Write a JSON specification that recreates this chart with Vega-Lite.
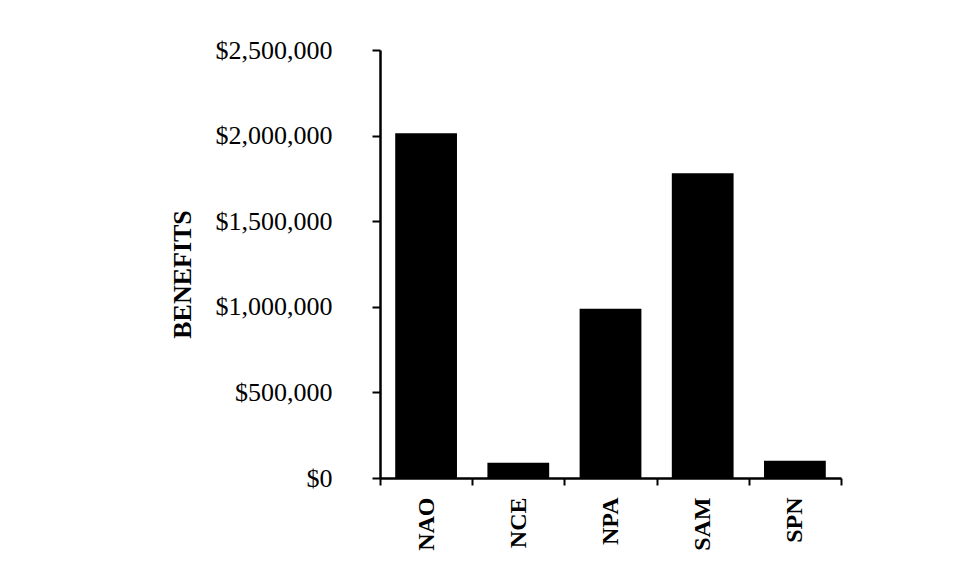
{
  "$schema": "https://vega.github.io/schema/vega-lite/v6.json",
  "width": 461,
  "height": 428,
  "autosize": {"type": "none"},
  "padding": {"left": 380, "top": 50, "right": 128, "bottom": 103},
  "background": "white",
  "config": {
    "view": {"stroke": null},
    "font": "Liberation Serif"
  },
  "data": {
    "values": [
      {"region": "NAO", "benefits": 2013000},
      {"region": "NCE", "benefits": 89000},
      {"region": "NPA", "benefits": 988000},
      {"region": "SAM", "benefits": 1780000},
      {"region": "SPN", "benefits": 101000}
    ]
  },
  "mark": {"type": "bar", "color": "black", "width": {"band": 0.67}},
  "encoding": {
    "x": {
      "field": "region",
      "type": "nominal",
      "sort": null,
      "scale": {"paddingInner": 0, "paddingOuter": 0},
      "axis": {
        "title": null,
        "labelAngle": -90,
        "labelFont": "Liberation Serif",
        "labelFontSize": 24,
        "labelFontWeight": "bold",
        "labelColor": "black",
        "labelPadding": 12,
        "tickBand": "extent",
        "tickSize": 7,
        "tickWidth": 2,
        "tickColor": "black",
        "domainColor": "black",
        "domainWidth": 2.5
      }
    },
    "y": {
      "field": "benefits",
      "type": "quantitative",
      "scale": {"domain": [0, 2500000], "nice": false},
      "axis": {
        "title": "BENEFITS",
        "titleFont": "Liberation Serif",
        "titleFontSize": 26,
        "titleFontWeight": "bold",
        "titleColor": "black",
        "titlePadding": 20,
        "titleY": 224,
        "values": [0, 500000, 1000000, 1500000, 2000000, 2500000],
        "format": "$,.0f",
        "grid": false,
        "labelFont": "Liberation Serif",
        "labelFontSize": 26,
        "labelColor": "black",
        "labelPadding": 40,
        "tickSize": 8,
        "tickWidth": 2,
        "tickColor": "black",
        "domainColor": "black",
        "domainWidth": 2.5
      }
    }
  }
}
